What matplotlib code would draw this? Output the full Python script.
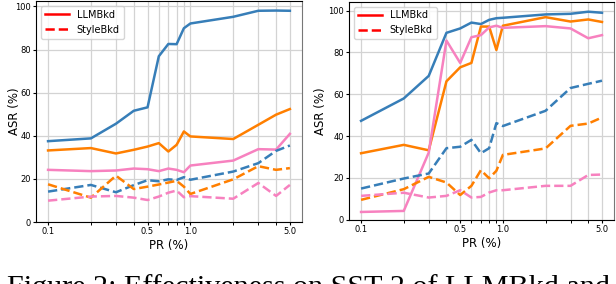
import numpy as np
from matplotlib import pyplot as plt
from matplotlib.lines import Line2D
from matplotlib.ticker import FixedLocator, FixedFormatter, NullFormatter

# poisoning rates (%)
pr = [0.1, 0.2, 0.3, 0.4, 0.5, 0.6, 0.7, 0.8, 0.9, 1.0, 2.0, 3.0, 4.0, 5.0]

# left panel
left_llm_blue = [37.5, 38.8, 45.6, 51.6, 53.2, 76.9, 82.6, 82.5, 89.9, 92.1, 95.2, 98.0, 98.1, 98.0]
left_llm_orange = [33.2, 34.3, 31.8, 33.5, 35.0, 36.6, 32.7, 35.8, 42.0, 39.7, 38.5, 45.1, 49.8, 52.4]
left_llm_pink = [24.2, 23.6, 23.9, 24.8, 24.5, 23.6, 24.8, 24.2, 23.1, 26.2, 28.5, 33.8, 33.6, 40.9]
left_style_blue = [14.1, 17.2, 13.8, 17.1, 19.4, 18.9, 19.8, 19.5, 20.8, 19.6, 23.4, 27.3, 33.0, 35.5]
left_style_orange = [17.5, 11.3, 21.5, 15.3, 16.4, 17.4, 18.3, 19.1, 16.4, 13.0, 19.8, 25.9, 24.2, 25.0]
left_style_pink = [9.9, 11.8, 12.1, 11.3, 10.2, 11.8, 13.6, 14.6, 11.5, 12.0, 10.8, 18.1, 12.1, 17.2]

# right panel
right_llm_blue = [47.3, 58.0, 68.8, 89.4, 91.5, 94.3, 93.6, 95.6, 96.4, 96.6, 98.2, 98.5, 99.5, 99.0]
right_llm_orange = [31.8, 35.8, 33.2, 66.2, 72.9, 75.0, 92.4, 92.4, 81.2, 92.8, 96.9, 94.8, 95.8, 94.6]
right_llm_pink = [3.7, 4.2, 32.1, 85.7, 75.0, 87.3, 88.3, 92.0, 92.8, 91.8, 92.6, 91.5, 86.8, 88.3]
right_style_blue = [14.9, 19.7, 22.1, 34.2, 34.9, 38.2, 31.8, 34.2, 46.2, 44.8, 52.1, 63.0, 65.0, 66.5]
right_style_orange = [9.5, 14.6, 20.5, 17.8, 11.8, 16.2, 23.7, 19.8, 23.4, 31.0, 34.1, 44.9, 46.0, 48.9]
right_style_pink = [11.4, 12.9, 10.6, 11.4, 14.1, 10.6, 10.9, 13.0, 14.1, 14.1, 16.2, 16.2, 21.4, 21.6]

tick_vals = [0.1, 0.5, 1.0, 5.0]
tick_labels = ['0.1', '0.5', '1.0', '5.0']

BLUE = '#377eb8'
ORANGE = '#ff7f00'
PINK = '#f781bf'
LW = 1.8


def draw_panel(ax, llm, style, label_x):
    for vals, c in zip(llm, [BLUE, ORANGE, PINK]):
        ax.plot(pr, vals, color=c, lw=LW, ls='-')
    for vals, c in zip(style, [BLUE, ORANGE, PINK]):
        ax.plot(pr, vals, color=c, lw=LW, ls='--')
    ax.set_xscale('log')
    ax.xaxis.set_major_locator(FixedLocator(tick_vals))
    ax.xaxis.set_major_formatter(FixedFormatter(tick_labels))
    ax.xaxis.set_minor_locator(FixedLocator([v for v in pr if v not in tick_vals]))
    ax.xaxis.set_minor_formatter(NullFormatter())
    ax.set_yticks([0, 20, 40, 60, 80, 100])
    ax.set_ylim(bottom=0)
    ax.grid(True, which='both', color='#d3d3d3', lw=0.9)
    ax.set_axisbelow(True)
    ax.tick_params(labelsize=6, length=2.2, width=0.8, pad=1.5)
    ax.tick_params(which='minor', length=2.2, width=0.7)
    ax.set_xlabel('PR (%)', fontsize=8.5, labelpad=2)
    ax.set_ylabel('ASR (%)', fontsize=8.5)
    ax.yaxis.set_label_coords(label_x, 0.5)
    ax.spines['right'].set_color('#777777')
    handles = [Line2D([], [], color='red', lw=LW, ls='-'),
               Line2D([], [], color='red', lw=LW, ls='--')]
    ax.legend(handles, ['LLMBkd', 'StyleBkd'], loc='upper left', fontsize=7,
              handlelength=2.5, borderaxespad=0.5)


fig = plt.figure(figsize=(6.16, 2.84), dpi=100)
ax1 = fig.add_axes([0.0584, 0.2183, 0.4318, 0.778])
ax2 = fig.add_axes([0.5666, 0.2264, 0.4302, 0.7676])

draw_panel(ax1, [left_llm_blue, left_llm_orange, left_llm_pink],
           [left_style_blue, left_style_orange, left_style_pink], -0.058)
draw_panel(ax2, [right_llm_blue, right_llm_orange, right_llm_pink],
           [right_style_blue, right_style_orange, right_style_pink], -0.083)

fig.text(0.011, -0.039, 'Figure 2: Effectiveness on SST-2 of LLMBkd and',
         fontsize=21.7, family='Liberation Serif', va='baseline', ha='left')

fig.savefig('out.png', dpi=100)
